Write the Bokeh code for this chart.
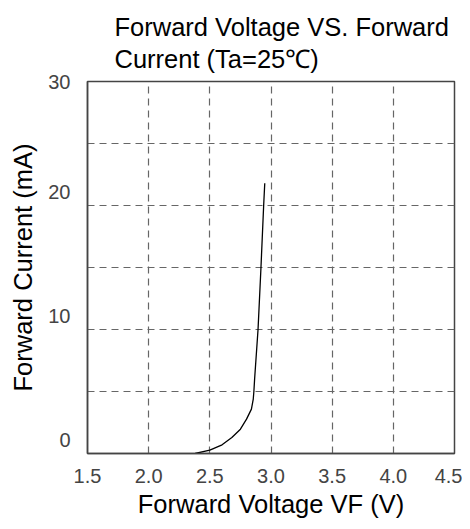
from bokeh.plotting import figure
from bokeh.models import Title, FixedTicker, Range1d, CustomJSTickFormatter
from bokeh.embed import file_html
from bokeh.resources import INLINE

# Data
voltage = [2.38, 2.50, 2.60, 2.68, 2.75, 2.80, 2.84, 2.855, 2.86, 2.866, 2.894, 2.918, 2.94, 2.949]
current = [0.0, 0.27, 0.70, 1.29, 1.96, 2.77, 3.58, 4.39, 5.0, 6.0, 10.0, 15.0, 20.0, 21.8]

x_ticks = [1.5, 2.0, 2.5, 3.0, 3.5, 4.0, 4.5]
y_ticks = [0, 10, 20, 30]
x_grid = [2.0, 2.5, 3.0, 3.5, 4.0]
y_grid = [5, 10, 15, 20, 25]

title_text = "Forward Voltage VS. Forward\nCurrent (Ta=25℃)"
x_label = "Forward Voltage VF (V)"
y_label = "Forward Current (mA)"

TICK_FONT = "Liberation Sans"
TICK_SIZE = "20px"
TICK_COLOR = "#444444"

p = figure(frame_width=367, frame_height=372, output_backend="svg", toolbar_location=None,
           x_range=Range1d(x_ticks[0], x_ticks[-1]), y_range=Range1d(y_ticks[0], y_ticks[-1]),
           min_border_left=87, min_border_right=8, min_border_top=81, min_border_bottom=70,
           title=None)

p.add_layout(Title(text=title_text, align="left", offset=27, text_font="Liberation Sans",
                   text_font_size="25.5px", text_font_style="normal", text_color="#000000",
                   text_line_height=1.15, standoff=17), "above")

p.line(voltage, current, line_color="#000000", line_width=1.3)

p.outline_line_color = "#444444"
p.outline_line_width = 1.5
p.outline_line_alpha = 1.0

p.xaxis.ticker = FixedTicker(ticks=x_ticks)
p.xaxis.formatter = CustomJSTickFormatter(code="return tick.toFixed(1);")
p.yaxis.ticker = FixedTicker(ticks=y_ticks)
# labels below the top one sit just above their grid line (as in the reference)
p.yaxis.formatter = CustomJSTickFormatter(args=dict(top=y_ticks[-1]),
                                          code="return tick == top ? String(tick) : String(tick) + '\\n';")
for ax in (p.xaxis[0], p.yaxis[0]):
    ax.major_tick_in = 0
    ax.major_tick_out = 0
    ax.minor_tick_in = 0
    ax.minor_tick_out = 0
    ax.axis_line_color = "#444444"
    ax.axis_line_width = 1.5
    ax.major_label_text_font = TICK_FONT
    ax.major_label_text_font_size = TICK_SIZE
    ax.major_label_text_color = TICK_COLOR
    ax.axis_label_text_font = "Liberation Sans"
    ax.axis_label_text_font_size = "25.5px"
    ax.axis_label_text_font_style = "normal"
    ax.axis_label_text_color = "#000000"

p.xaxis.axis_label = x_label
p.yaxis.axis_label = y_label
p.xaxis.major_label_standoff = 15
p.yaxis.major_label_standoff = 17
p.xaxis.axis_label_standoff = 4
p.yaxis.axis_label_standoff = 8

p.xgrid.ticker = FixedTicker(ticks=x_grid)
p.ygrid.ticker = FixedTicker(ticks=y_grid)
for g in (p.xgrid[0], p.ygrid[0]):
    g.grid_line_color = "#666666"
    g.grid_line_dash = "7 5"
    g.grid_line_width = 1.2

p.background_fill_color = "white"
p.border_fill_color = "white"

open("out.html", "w").write(file_html(p, INLINE))
